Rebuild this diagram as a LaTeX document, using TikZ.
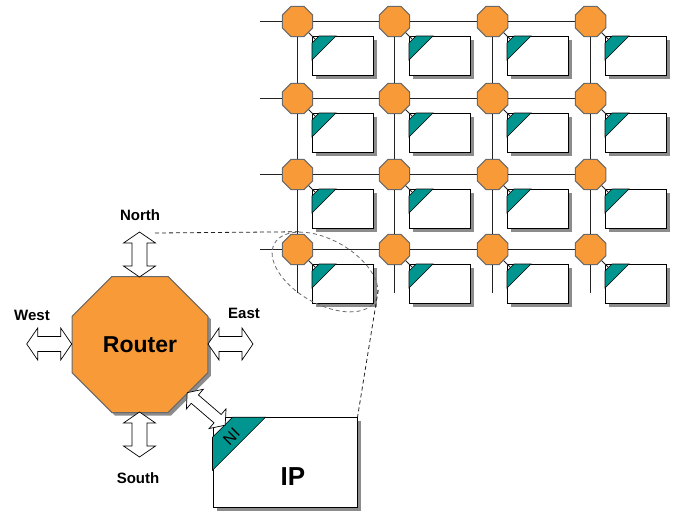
\documentclass[tikz,border=0pt]{standalone}
\usepackage{fontspec}
\setmainfont{Liberation Sans}
\usetikzlibrary{shapes.geometric,shapes.misc,calc}
\definecolor{routerorange}{RGB}{248,154,56}
\definecolor{octline}{RGB}{105,105,105}
\definecolor{nicolor}{RGB}{0,150,143}
\definecolor{shadowgray}{RGB}{140,140,140}
\definecolor{linkgray}{RGB}{35,35,35}
\tikzset{
  router/.style={regular polygon,regular polygon sides=8,draw=octline,fill=routerorange,inner sep=0pt,line width=1pt},
  ipbox/.style={chamfered rectangle,chamfered rectangle corners=north west,draw=black,fill=white,inner sep=0pt,line width=1pt},
  niband/.style={fill=nicolor,draw=black,line width=0.6pt},
  link/.style={draw=linkgray,line width=1pt},
  zoomline/.style={draw=linkgray,dash pattern=on 4pt off 3pt,line width=0.8pt},
  dirlabel/.style={font=\bfseries\fontsize{15}{15}\selectfont},
  arrowbox/.style={draw=black,fill=white,line width=0.7pt},
  pics/dblarrow/.style n args={4}{code={
    \draw[arrowbox] (-#1/2,0) -- (-#1/2+#4,-#2/2) -- (-#1/2+#4,-#3/2) -- (#1/2-#4,-#3/2) -- (#1/2-#4,-#2/2)
      -- (#1/2,0) -- (#1/2-#4,#2/2) -- (#1/2-#4,#3/2) -- (-#1/2+#4,#3/2) -- (-#1/2+#4,#2/2) -- cycle;
  }}
}
\begin{document}
\begin{tikzpicture}[x=1pt,y=-1pt]
  \useasboundingbox (0,0) rectangle (677,514);
  \foreach \i/\y in {1/21.5,2/98.5,3/174.5,4/249.5}{
    \coordinate (w-\i) at (260,\y);
    \foreach \j/\x in {1/297.5,2/394.5,3/492.5,4/590.5}{
      \node[router,minimum size=33pt] (r-\i-\j) at (\x,\y) {};
      \fill[shadowgray] (\x+18,\y+18) rectangle (\x+79,\y+57);
      \node[ipbox,chamfered rectangle sep=7pt,minimum width=61pt,minimum height=39pt] (ip-\i-\j) at (\x+45.5,\y+34.5) {};
      \coordinate (ni-\i-\j) at ($(ip-\i-\j.north -| ip-\i-\j.west)+(3.5,3.5)$);
      \filldraw[niband] ($(ip-\i-\j.north -| ip-\i-\j.west)+(7,0)$) -- ++(17,0) -- ++(-24,24) -- ++(0,-17) -- cycle;
    }
  }
  \foreach \j/\x in {1/297.5,2/394.5,3/492.5,4/590.5}
    \coordinate (s-\j) at (\x,293);
  \foreach \i in {1,...,4}{
    \draw[link] (w-\i) -- (r-\i-1) -- (r-\i-2) -- (r-\i-3) -- (r-\i-4);
    \draw[link] (r-1-\i) -- (r-2-\i) -- (r-3-\i) -- (r-4-\i) -- (s-\i);
    \foreach \j in {1,...,4}
      \draw[link] (r-\i-\j) -- (ni-\i-\j);
  }

  \node[router,draw=none,fill=shadowgray,minimum size=147.2pt] (routershadow) at (143,347.5) {};
  \node[router,minimum size=147.2pt,font=\bfseries\fontsize{23}{23}\selectfont] (router) at (140,344.5) {Router};
  \fill[shadowgray] (216.5,421) rectangle (360.5,511);
  \node[ipbox,chamfered rectangle sep=20pt,minimum width=144pt,minimum height=90pt] (ip) at (285,462.7) {};
  \filldraw[niband] ($(ip.north -| ip.west)+(20,0)$) -- ++(33,0) -- ++(-53,53) -- ++(0,-33) -- cycle;
  \node[rotate=45,inner sep=0pt,font=\fontsize{16}{16}\selectfont] (ni) at (231.5,436.5) {NI};
  \node[font=\bfseries\fontsize{26}{26}\selectfont] (iplabel) at (293,477) {IP};

  \pic[rotate=90] at (139.5,254.5) {dblarrow={45}{32}{15}{11}};
  \pic[rotate=90] at (139.5,434.5) {dblarrow={45}{32}{15}{11}};
  \pic at (49.2,344) {dblarrow={45}{32}{15}{11}};
  \pic at (230.5,344) {dblarrow={45}{32}{15}{11}};
  \pic[rotate=-40.6] at (206.2,408.9) {dblarrow={50}{26}{11}{10}};

  \node[dirlabel] (north) at (140,215.5) {North};
  \node[dirlabel] (south) at (138,478) {South};
  \node[dirlabel] (west) at (32,315) {West};
  \node[dirlabel] (east) at (244,313.5) {East};

  \node[ellipse,draw=octline,dash pattern=on 4pt off 3pt,line width=0.8pt,minimum width=116pt,minimum height=64pt,
    inner sep=0pt,rotate=-29.5] (focus) at (325,272) {};
  \coordinate (northend) at (155,233);
  \draw[zoomline] (northend) -- (focus.150);
  \draw[zoomline] (focus.11) -- (ip.north east);
\end{tikzpicture}
\end{document}
